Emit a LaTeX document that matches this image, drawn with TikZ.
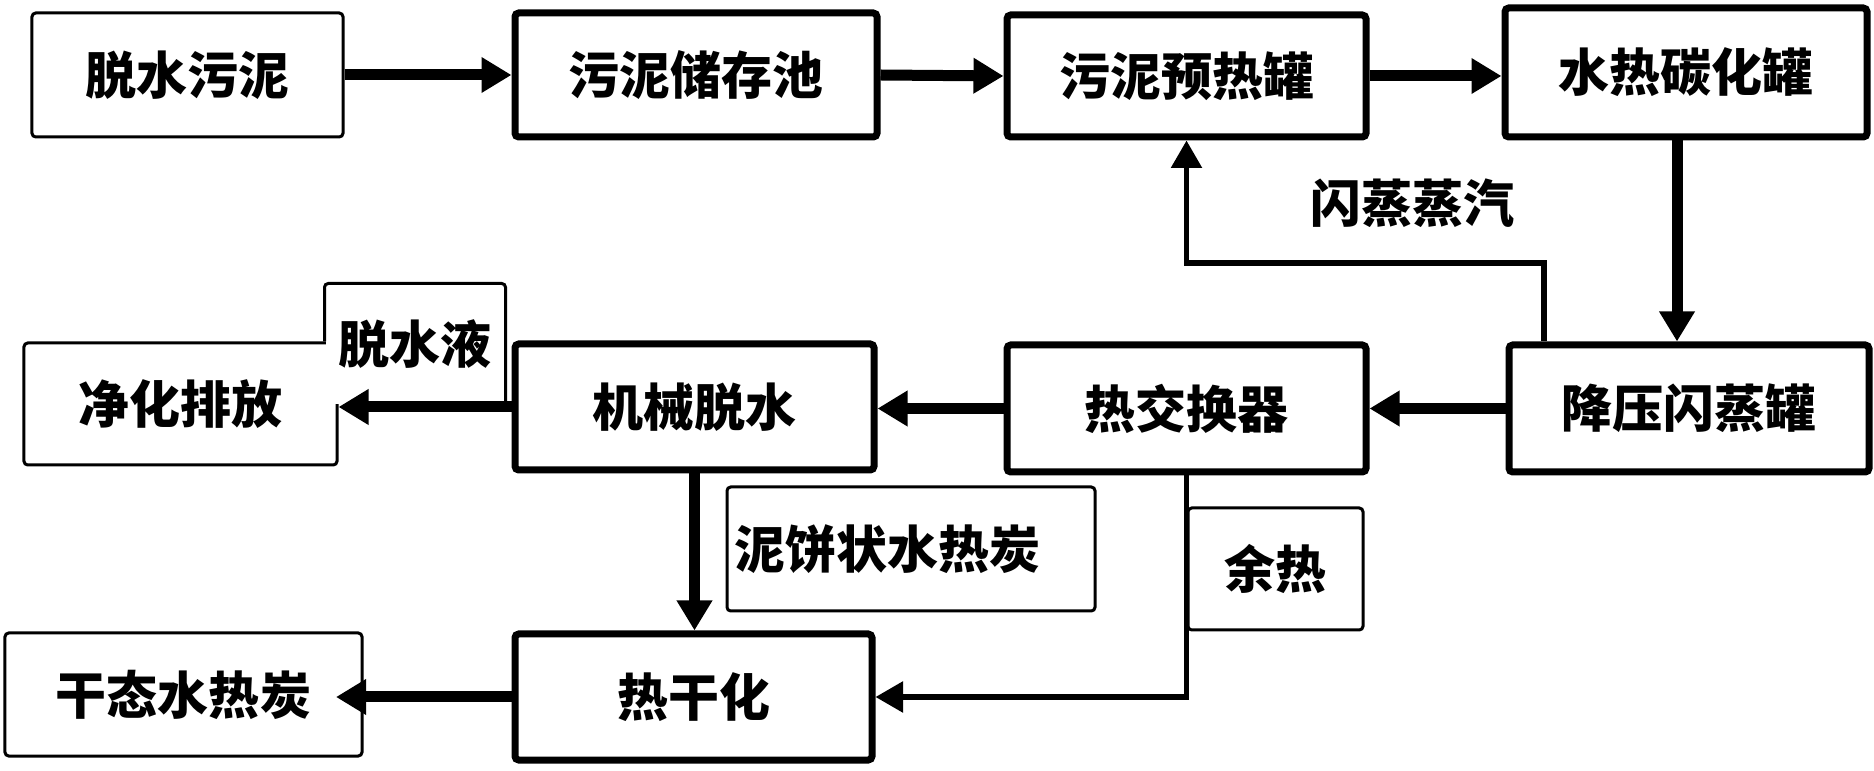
\documentclass[tikz,border=0pt]{standalone}
\usepackage{fontspec}
\usepackage{xcolor}
\usepackage{tikz}
\usetikzlibrary{arrows.meta}
\usetikzlibrary{shapes}
\newfontfamily\cjk{Noto Sans CJK SC}

\tikzset{
    boxfont/.style = {font=\cjk\bfseries\fontsize{20.4}{24}\selectfont},
    thickbox/.style = {draw, line width=2.8pt, rounded corners=1.5pt, fill=white, inner sep=0pt, boxfont},
    thinbox/.style = {draw, line width=1.2pt, rounded corners=1.5pt, fill=white, inner sep=0pt, boxfont},
    mainarrow/.style = {line width=4.4pt, -{Triangle[length=12pt, width=13.5pt]}},
    sidearrow/.style = {line width=2.2pt, -{Triangle[length=11pt, width=12pt]}}
}

\begin{document}
\begin{tikzpicture}[x=0.4pt, y=-0.4pt]
        \useasboundingbox (0, 0) rectangle (1874, 771);

        \node [thinbox, minimum width=124.4pt, minimum height=49.6pt] (dewater) at (187.5, 75) {脱水污泥};
        \node [thickbox, minimum width=144.8pt, minimum height=49.6pt] (store) at (696, 75) {污泥储存池};
        \node [thickbox, minimum width=143.6pt, minimum height=48.8pt] (preheat) at (1186.5, 76) {污泥预热罐};
        \node [thickbox, minimum width=144.8pt, minimum height=51.6pt] (htc) at (1686, 72.5) {水热碳化罐};

        \node [thickbox, minimum width=144pt, minimum height=50.8pt] (flash) at (1689, 408.5) {降压闪蒸罐};
        \node [thickbox, minimum width=143.6pt, minimum height=50.8pt] (hex) at (1186.5, 408.5) {热交换器};
        \node [thickbox, minimum width=143.6pt, minimum height=50.4pt] (mech) at (694.5, 407) {机械脱水};
        \node [thinbox, minimum width=125.2pt, minimum height=48.8pt] (purify) at (180.5, 404) {净化排放};

        \node [thickbox, minimum width=142.8pt, minimum height=50.4pt] (dry) at (693.5, 697) {热干化};
        \node [thinbox, minimum width=142.8pt, minimum height=49.2pt] (product) at (183.5, 694.5) {干态水热炭};

        \node [thinbox, draw=none, minimum width=71.2pt, minimum height=47.6pt] (liquid) at (415, 344.5) {脱水液};
        \draw [line width=1.2pt, rounded corners=1.5pt] (liquid.south west |- purify.north)
            -- (liquid.north west) -- (liquid.north east) -- (liquid.south east);
        \node [thinbox, minimum height=49.6pt, text width=141.6pt, inner xsep=2.8pt, align=left] (cake) at (911, 549) {泥饼状水热炭};
        \node [thinbox, minimum width=70pt, minimum height=48.8pt] (heat) at (1275.5, 569) {余热};
        \node [boxfont] (steam) at (1412, 203) {闪蒸蒸汽};

        \coordinate (downx) at (1677, 0);
        \coordinate (steamx) at (1544, 0);
        \coordinate (steamy) at (0, 263);

        \draw [mainarrow] (dewater.east) -- (store.west);
        \draw [mainarrow] (store.east) -- (preheat.west);
        \draw [mainarrow] (preheat.east) -- (preheat.east -| htc.west);
        \draw [mainarrow] (htc.south -| downx) -- (flash.north -| downx);
        \draw [mainarrow] (flash.west) -- (flash.west -| hex.east);
        \draw [mainarrow] (hex.west) -- (hex.west -| mech.east);
        \draw [mainarrow] (mech.west) -- (mech.west -| purify.east);
        \draw [mainarrow] (mech.south) -- (mech.south |- dry.north);
        \draw [mainarrow, shorten >=-11pt] (dry.west) -- (dry.west -| product.east);

        \draw [sidearrow] (flash.north -| steamx) -- (steamx |- steamy) -| (preheat.south);
        \draw [sidearrow] (hex.south) |- (dry.east);
    \end{tikzpicture}
\end{document}
